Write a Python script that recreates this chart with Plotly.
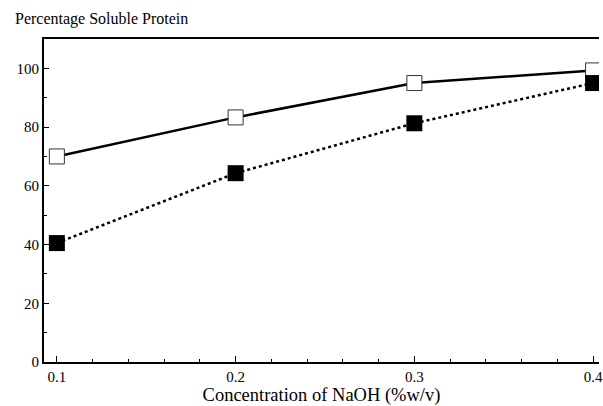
import plotly.graph_objects as go

naoh = [0.1, 0.2, 0.3, 0.4]
open_series = [70, 83.3, 95, 99.3]
filled_series = [40.5, 64.3, 81.3, 95]
y_ticks = [0, 20, 40, 60, 80, 100]
x_ticks = [0.1, 0.2, 0.3, 0.4]

font = "Liberation Serif, Times New Roman, serif"

fig = go.Figure()
fig.add_trace(go.Scatter(
    x=naoh, y=open_series, mode="lines+markers",
    line=dict(color="black", width=2.5),
    marker=dict(symbol="square", size=15, color="white",
                line=dict(color="#333", width=1)),
    showlegend=False))
fig.add_trace(go.Scatter(
    x=naoh, y=filled_series, mode="lines+markers",
    line=dict(color="black", width=2.5, dash="dot"),
    marker=dict(symbol="square", size=16, color="black",
                line=dict(color="black", width=0)),
    showlegend=False))

fig.update_layout(
    width=603, height=406,
    margin=dict(l=44, r=0, t=39, b=44),
    paper_bgcolor="white", plot_bgcolor="white",
    font=dict(family=font, color="black", size=15),
    xaxis=dict(range=[0.0928, 0.4033], tickvals=x_ticks, ticktext=["0.1", "0.2", "0.3", "0.4"],
               showgrid=False, zeroline=False, showline=True, linecolor="black", linewidth=2,
               mirror=True, ticks="inside", ticklen=6, tickcolor="black",
               ticklabeloverflow="allow",
               minor=dict(dtick=0.02, tick0=0.1, ticks="inside", ticklen=3, tickcolor="black",
                          showgrid=False),
               tickfont=dict(size=15, family=font),
               title=dict(text="Concentration of NaOH (%w/v)", font=dict(size=18.5, family=font), standoff=3)),
    yaxis=dict(range=[0, 110], tickvals=y_ticks, mirror=False,
               showgrid=False, zeroline=False, showline=True, linecolor="black", linewidth=2,
               ticks="inside", ticklen=5, tickcolor="black",
               minor=dict(dtick=10, ticks="inside", ticklen=3, tickcolor="black", showgrid=False),
               tickfont=dict(size=15, family=font)),
    annotations=[dict(text="Percentage Soluble Protein",
                      x=(13 - 44) / 559, y=(406 - 44 - 19) / 323,
                      xref="paper", yref="paper", xanchor="left", yanchor="middle",
                      showarrow=False, font=dict(size=16, family=font))],
)

fig.write_html("out.html")
